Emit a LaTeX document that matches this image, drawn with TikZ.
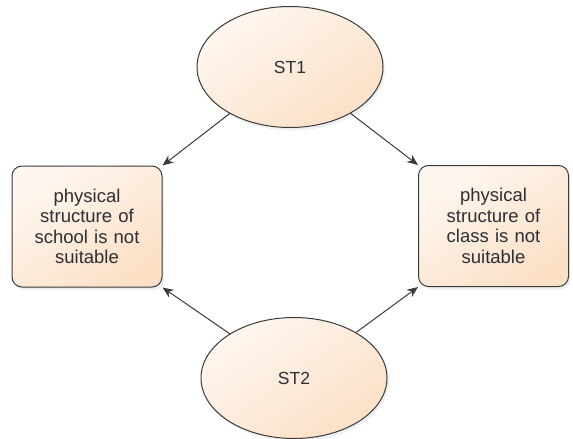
\documentclass[tikz,border=0pt]{standalone}
\usepackage{fontspec}
\setmainfont{Liberation Sans}
\usetikzlibrary{shapes.geometric,arrows.meta,shadows,fadings}
\definecolor{peachlight}{HTML}{FEF7F0}
\definecolor{peachdark}{HTML}{FBE0C6}
\definecolor{edge}{HTML}{3A3A3A}
\definecolor{ink}{HTML}{2E2E34}
\tikzset{
  base/.style={draw=edge, line width=1pt, text=ink,
    top color=peachlight, bottom color=peachdark, shading angle=35,
    drop shadow={opacity=0.12, shadow xshift=2pt, shadow yshift=-3pt}},
  stnode/.style={base, ellipse, minimum width=186pt, minimum height=121pt,
    inner sep=0pt, font=\fontsize{17.5}{20}\selectfont},
  issue/.style={base, rectangle, rounded corners=10pt, minimum width=150pt,
    minimum height=121pt, text width=140pt, align=center, inner sep=0pt,
    font=\fontsize{18.5}{20.5}\selectfont},
  link/.style={draw=edge, line width=1pt, -{Stealth[length=11pt,width=9pt]}}
}
\begin{document}
\begin{tikzpicture}[x=1pt,y=-1pt]
  \useasboundingbox (0,0) rectangle (573,439);
  \node[stnode] (st1) at (290,67) {ST1};
  \node[stnode] (st2) at (294,378) {ST2};
  \node[issue] (school) at (87,226.5) {physical\\structure of\\school is not\\suitable};
  \node[issue] (class) at (493.5,226) {physical\\structure of\\class is not\\suitable};
  \draw[link] (st1) -- (school.north east);
  \draw[link] (st1) -- (class.north west);
  \draw[link] (st2) -- (school.south east);
  \draw[link] (st2) -- (class.south west);
\end{tikzpicture}
\end{document}
